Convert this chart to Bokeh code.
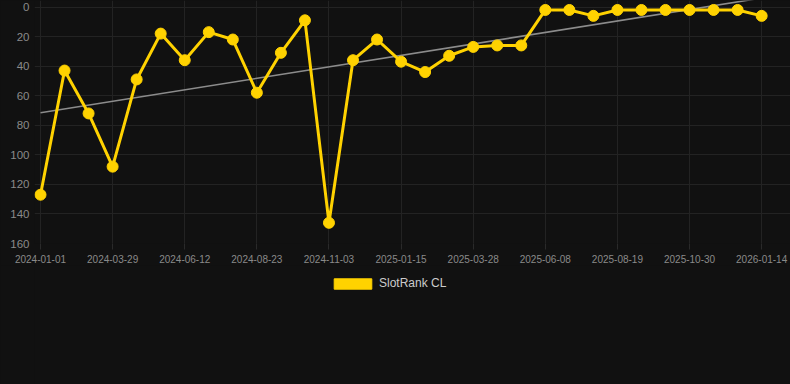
import numpy as np
from bokeh.plotting import figure
from bokeh.layouts import column
from bokeh.models import Range1d, FixedTicker, Legend, LegendItem, ColumnDataSource
from bokeh.embed import file_html
from bokeh.resources import INLINE

# Data (rank; lower = better, axis inverted)
ranks = [127, 43, 72, 108, 49, 18, 36, 17, 22, 58, 31, 9, 146, 36, 22, 37,
         44, 33, 27, 26, 26, 2, 2, 6, 2, 2, 2, 2, 2, 2, 6]
tick_labels = ["2024-01-01", "2024-03-29", "2024-06-12", "2024-08-23", "2024-11-03",
               "2025-01-15", "2025-03-28", "2025-06-08", "2025-08-19", "2025-10-30",
               "2026-01-14"]
y_ticks = [0, 20, 40, 60, 80, 100, 120, 140, 160]
series_name = "SlotRank CL"

idx = list(range(len(ranks)))
tick_pos = idx[::3]

BG = "#111111"
GRID = "#232323"
LABEL = "#8a8a8a"
GOLD = "#FFD200"

p = figure(width=790, height=265, output_backend="svg", toolbar_location=None,
           background_fill_color=BG, border_fill_color=BG,
           min_border_left=34, min_border_right=0, min_border_top=0, min_border_bottom=22)
p.outline_line_color = None
p.x_range = Range1d(-0.25, 31.2)
p.y_range = Range1d(160, -4.4)

src = ColumnDataSource(dict(x=idx, y=ranks))

# trend line (least squares fit of ranks)
k, b = np.polyfit(idx, ranks, 1)
tx = [idx[0], idx[-1]]
p.line(x=tx, y=[k * t + b for t in tx], line_color="#8c8c8c", line_width=1.6)

p.line("x", "y", source=src, line_color=GOLD, line_width=3)
p.scatter("x", "y", source=src, size=11, fill_color=GOLD, line_color=GOLD)

p.xaxis.ticker = FixedTicker(ticks=tick_pos)
p.xaxis.major_label_overrides = {i: lab for i, lab in zip(tick_pos, tick_labels)}
p.yaxis.ticker = FixedTicker(ticks=y_ticks)

p.xaxis.axis_line_color = None
p.yaxis.axis_line_color = None
p.xaxis.minor_tick_line_color = None
p.yaxis.minor_tick_line_color = None
p.yaxis.major_tick_line_color = None
p.yaxis.major_tick_out = 0
p.yaxis.major_tick_in = 0
p.xaxis.major_tick_line_color = "#2a2a2a"
p.xaxis.major_tick_out = 6
p.xaxis.major_tick_in = 0
p.xaxis.major_label_text_color = LABEL
p.yaxis.major_label_text_color = LABEL
p.xaxis.major_label_text_font = "Liberation Sans"
p.yaxis.major_label_text_font = "Liberation Sans"
p.xaxis.major_label_text_font_size = "10px"
p.yaxis.major_label_text_font_size = "11.5px"
p.xaxis.major_label_standoff = 5
p.yaxis.major_label_standoff = 5

p.xgrid.grid_line_color = GRID
p.ygrid.grid_line_color = GRID
p.xgrid.ticker = FixedTicker(ticks=tick_pos)

# legend strip below the chart
lg = figure(width=790, height=119, output_backend="svg", toolbar_location=None,
            background_fill_color=BG, border_fill_color=BG,
            min_border_left=0, min_border_right=0, min_border_top=0, min_border_bottom=0,
            x_range=Range1d(0, 1), y_range=Range1d(0, 1))
lg.outline_line_color = None
lg.axis.visible = False
lg.grid.visible = False
# off-range swatch renderer used only for the legend key
legend_r = lg.quad(left=[5], right=[6], top=[5], bottom=[6], fill_color=GOLD, line_color=GOLD)
legend = Legend(items=[LegendItem(label=series_name, renderers=[legend_r])],
                orientation="horizontal", location=(295, 94),
                background_fill_alpha=0, border_line_color=None,
                label_text_color="#cccccc", label_text_font="Liberation Sans",
                label_text_font_size="12px", glyph_width=47, glyph_height=13,
                label_height=13, margin=0, padding=0, label_standoff=3)
lg.add_layout(legend, "center")

layout = column(p, lg, spacing=0, styles={"background-color": BG})
open("out.html", "w").write(file_html(layout, INLINE))
